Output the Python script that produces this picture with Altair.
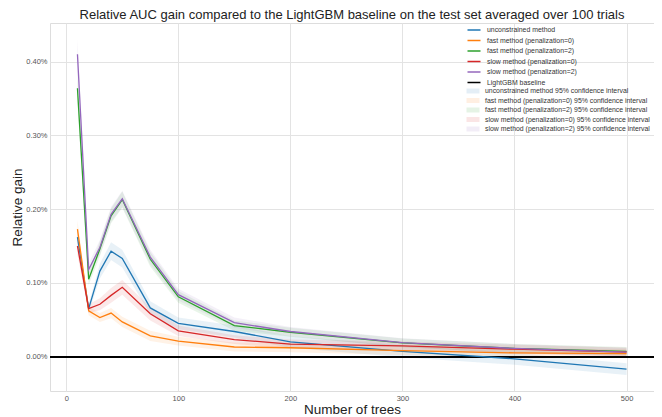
import altair as alt
import pandas as pd

trees = [10, 20, 30, 40, 50, 75, 100, 150, 200, 300, 400, 500]

series_names = [
    "unconstrained method",
    "fast method (penalization=0)",
    "fast method (penalization=2)",
    "slow method (penalization=0)",
    "slow method (penalization=2)",
]
colors = ["#1f77b4", "#ff7f0e", "#2ca02c", "#d62728", "#9467bd"]

# mean relative gain, in percent
unconstrained = [0.162, 0.065, 0.116, 0.143, 0.133, 0.066, 0.045, 0.034, 0.020, 0.007, -0.003, -0.017]
fast_pen0 = [0.173, 0.062, 0.053, 0.059, 0.047, 0.028, 0.021, 0.013, 0.012, 0.008, 0.005, 0.004]
fast_pen2 = [0.364, 0.105, 0.146, 0.191, 0.213, 0.132, 0.081, 0.042, 0.033, 0.0185, 0.011, 0.007]
slow_pen0 = [0.150, 0.065, 0.071, 0.083, 0.094, 0.058, 0.035, 0.023, 0.017, 0.0145, 0.010, 0.006]
slow_pen2 = [0.410, 0.118, 0.148, 0.193, 0.214, 0.135, 0.084, 0.046, 0.034, 0.019, 0.011, 0.006]

# half width of the 95% confidence interval, in percent
ci_unconstrained = [0.012, 0.006, 0.010, 0.012, 0.012, 0.009, 0.008, 0.008, 0.008, 0.008, 0.008, 0.008]
ci_fast_pen0 = [0.012, 0.006, 0.006, 0.007, 0.007, 0.007, 0.006, 0.006, 0.006, 0.006, 0.006, 0.006]
ci_fast_pen2 = [0.020, 0.008, 0.010, 0.010, 0.011, 0.010, 0.008, 0.007, 0.006, 0.006, 0.006, 0.006]
ci_slow_pen0 = [0.012, 0.006, 0.008, 0.010, 0.010, 0.009, 0.007, 0.006, 0.006, 0.006, 0.006, 0.006]
ci_slow_pen2 = [0.020, 0.008, 0.010, 0.010, 0.011, 0.010, 0.008, 0.007, 0.006, 0.006, 0.006, 0.006]

means = [unconstrained, fast_pen0, fast_pen2, slow_pen0, slow_pen2]
cis = [ci_unconstrained, ci_fast_pen0, ci_fast_pen2, ci_slow_pen0, ci_slow_pen2]

baseline_name = "LightGBM baseline"
ci_names = [s + " 95% confidence interval" for s in series_names]

rows = []
for i, name in enumerate(series_names):
    for t, m, c in zip(trees, means[i], cis[i]):
        rows.append({"trees": t, "series": name, "ci": ci_names[i],
                     "order": i, "mean": m, "lo": m - c, "hi": m + c})
df = pd.DataFrame(rows)

FONT = "Liberation Sans"
xscale = alt.Scale(domain=[-14.5, 524.5], nice=False, zero=False)
yscale = alt.Scale(domain=[-0.0467, 0.4525], nice=False, zero=False)

xaxis = alt.Axis(values=[0, 100, 200, 300, 400, 500], title="Number of trees",
                 titleFontSize=13.5, titleFont=FONT, titleFontWeight="normal",
                 titleColor="#222", titlePadding=1,
                 labelFontSize=7.5, labelFont=FONT, labelColor="#555", labelPadding=3,
                 ticks=False, domain=False, gridColor="#e3e3e3", gridWidth=1)
yaxis = alt.Axis(values=[0, 0.1, 0.2, 0.3, 0.4], title="Relative gain",
                 labelExpr="format(datum.value, '.2f') + '%'",
                 titleFontSize=13.5, titleFont=FONT, titleFontWeight="normal",
                 titleColor="#222", titlePadding=1,
                 labelFontSize=7.5, labelFont=FONT, labelColor="#555", labelPadding=3,
                 ticks=False, domain=False, gridColor="#e3e3e3", gridWidth=1)

band = alt.Chart(df).mark_area(opacity=0.1).encode(
    x=alt.X("trees:Q", scale=xscale, axis=xaxis),
    y=alt.Y("lo:Q", scale=yscale, axis=yaxis),
    y2="hi:Q",
    fill=alt.Fill("ci:N", scale=alt.Scale(domain=ci_names, range=colors),
                  legend=alt.Legend(title=None, orient="none", legendX=418, legendY=63,
                                    symbolType="M-1.3,-0.5H1.3V0.5H-1.3Z",
                                    symbolSize=100, symbolOpacity=0.12,
                                    symbolStrokeWidth=0, rowPadding=1.5,
                                    labelFont=FONT, labelFontSize=6.9, labelLimit=400,
                                    labelColor="#333", labelOffset=7, padding=0)),
    detail="series:N",
)

stroke_scale = alt.Scale(domain=series_names + [baseline_name], range=colors + ["#000000"])
stroke_legend = alt.Legend(title=None, orient="none", legendX=418, legendY=1,
                           symbolType="M-1.3,0H1.3", symbolSize=100,
                           symbolStrokeWidth=1.5, rowPadding=1.5,
                           labelFont=FONT, labelFontSize=6.9, labelColor="#333",
                           labelLimit=400, labelOffset=7, padding=0)

lines = alt.Chart(df).mark_line(strokeWidth=1.3).encode(
    x=alt.X("trees:Q", scale=xscale),
    y=alt.Y("mean:Q", scale=yscale),
    stroke=alt.Stroke("series:N", scale=stroke_scale, legend=stroke_legend),
    order="trees:Q",
)

base = alt.Chart(df).mark_rule(strokeWidth=1.3).encode(
    y=alt.datum(0, scale=yscale),
    stroke=alt.datum(baseline_name),
)

chart = alt.layer(band, base, lines).resolve_scale(fill="independent").properties(
    width=604, height=368,
    padding={"left": 42, "top": 15, "right": 0, "bottom": 26},
    autosize=alt.AutoSizeParams(type="none"),
    title=alt.Title("Relative AUC gain compared to the LightGBM baseline on the test set averaged over 100 trials",
                    fontSize=13, font=FONT, fontWeight="normal", color="#222",
                    anchor="middle", offset=1.5),
).configure_view(stroke="#d6d6d6", strokeWidth=1.5).configure(background="white")

chart.save("out.html", embed_options={"renderer": "svg", "actions": False})
